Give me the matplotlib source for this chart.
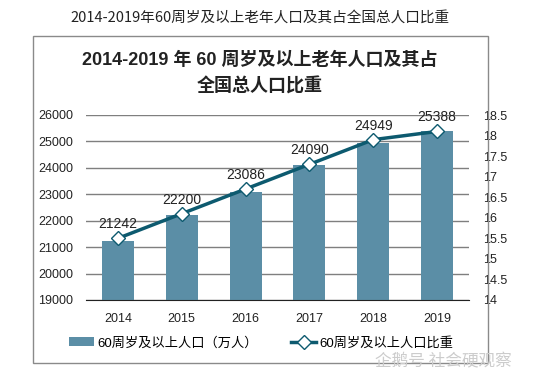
import matplotlib.pyplot as plt
from matplotlib.patches import Rectangle

plt.rcParams['font.family'] = ['Liberation Sans', 'Noto Sans CJK SC', 'DejaVu Sans']

years = ['2014', '2015', '2016', '2017', '2018', '2019']
population = [21242, 22200, 23086, 24090, 24949, 25388]
ratio = [15.5, 16.1, 16.7, 17.3, 17.9, 18.1]

bar_color = '#5b8ea6'
line_color = '#0d5a6f'

fig = plt.figure(figsize=(5.47, 3.81), dpi=100)

# outer frame
fig.patches.append(Rectangle((33 / 547, 1 - 363 / 381), 455 / 547, 327 / 381,
                             transform=fig.transFigure, fill=False,
                             edgecolor='#8a8a8a', linewidth=1))

fig.text(0.475, 1 - 18 / 381, '2014-2019年60周岁及以上老年人口及其占全国总人口比重',
         ha='center', va='center', fontsize=10.5, color='#222222',
         family=['Noto Sans CJK SC', 'DejaVu Sans'])
fig.text(0.475, 1 - 60 / 381, '2014-2019 年 60 周岁及以上老年人口及其占',
         ha='center', va='center', fontsize=13, fontweight='bold', color='#222222')
fig.text(0.475, 1 - 87 / 381, '全国总人口比重',
         ha='center', va='center', fontsize=13, fontweight='bold', color='#222222')

ax = fig.add_axes([86 / 547, 1 - 300 / 381, 383 / 547, 185 / 381])
x = range(len(years))
bars = ax.bar(x, population, width=0.5, color=bar_color, zorder=2,
              label='60周岁及以上人口（万人）')
ax.set_ylim(19000, 26000)
ax.set_yticks(range(19000, 26001, 1000))
ax.set_xlim(-0.5, 5.5)
ax.set_xticks(list(x))
ax.set_xticklabels(years)
ax.grid(axis='y', color='#7f7f7f', linewidth=1, zorder=0)
ax.set_axisbelow(True)
for s in ['top', 'right', 'left']:
    ax.spines[s].set_visible(False)
ax.spines['bottom'].set_color('#222222')
ax.tick_params(axis='both', length=0, labelsize=9, colors='#222222')
ax.tick_params(axis='y', pad=9)
ax.tick_params(axis='x', pad=9)

ax2 = ax.twinx()
line, = ax2.plot(x, ratio, color=line_color, linewidth=2.5, marker='D',
                 markersize=7, markerfacecolor='white', markeredgecolor=line_color,
                 markeredgewidth=1, zorder=3, label='60周岁及以上人口比重')
ax2.set_ylim(14, 18.5)
ax2.set_yticks([14, 14.5, 15, 15.5, 16, 16.5, 17, 17.5, 18, 18.5])
ax2.set_yticklabels(['14', '14.5', '15', '15.5', '16', '16.5', '17', '17.5', '18', '18.5'])
for s in ['top', 'right', 'left', 'bottom']:
    ax2.spines[s].set_visible(False)
ax2.tick_params(axis='y', length=0, labelsize=9, colors='#222222', pad=10)

for i, (p, r) in enumerate(zip(population, ratio)):
    ax2.annotate(str(p), (i, r), xytext=(0, 5), textcoords='offset points',
                 ha='center', va='bottom', fontsize=10, color='#222222')

fig.legend(handles=[bars, line], loc='center', bbox_to_anchor=(0.478, 1 - 343 / 381),
           ncol=2, frameon=False, fontsize=9.5, handlelength=1.9, columnspacing=2.5,
           handletextpad=0.25)

fig.text(0.935, 1 - 362 / 381, '企鹅号 社会硬观察', ha='right', va='center',
         fontsize=12, color='#cccccc', family=['Noto Sans CJK SC', 'DejaVu Sans'])

fig.savefig('out.png', dpi=100)
